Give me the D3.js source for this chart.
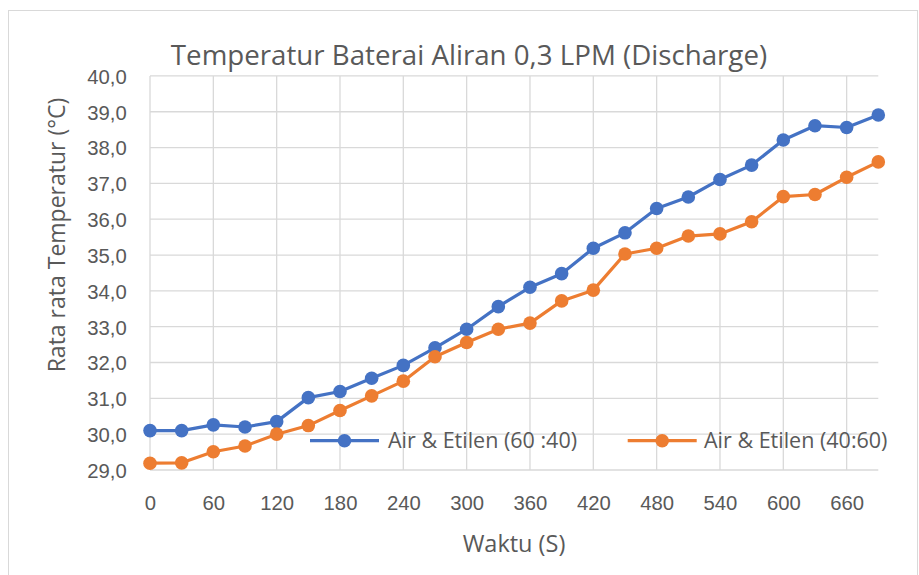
<!DOCTYPE html>
<html><head><meta charset="utf-8">
<script src="https://cdn.jsdelivr.net/npm/d3@7"></script>
<style>html,body{margin:0;padding:0;background:#fff;}svg{display:block;font-family:"Open Sans",sans-serif;}</style>
</head><body>
<svg id="c" width="919" height="575"></svg>
<script>
const times = [0,30,60,90,120,150,180,210,240,270,300,330,360,390,420,450,480,510,540,570,600,630,660,690];
const seriesA = [30.1,30.1,30.26,30.2,30.35,31.02,31.19,31.56,31.92,32.41,32.93,33.56,34.1,34.48,35.19,35.62,36.3,36.62,37.11,37.51,38.21,38.61,38.56,38.91];
const seriesB = [29.19,29.2,29.51,29.67,30.0,30.24,30.66,31.07,31.48,32.16,32.56,32.93,33.1,33.72,34.02,35.03,35.19,35.53,35.59,35.93,36.63,36.69,37.17,37.6];
const seriesNames = ["Air & Etilen (60 :40)","Air & Etilen (40:60)"];
const xTicks = [0,60,120,180,240,300,360,420,480,540,600,660];
const yTicks = [29,30,31,32,33,34,35,36,37,38,39,40];
const colors = ["#4472C4","#ED7D31"];

const svg = d3.select("#c");
const x = d3.scaleLinear().domain([0,690]).range([150,878.3]);
const y = d3.scaleLinear().domain([29,40]).range([470,75.9]);
const txt = "#595959", grid = "#d9d9d9";

svg.append("rect").attr("x",8.5).attr("y",10.5).attr("width",909).attr("height",570)
  .attr("fill","#fff").attr("stroke",grid);

// gridlines
svg.append("g").selectAll("line").data(yTicks).join("line")
  .attr("x1",x(0)).attr("x2",x(690)).attr("y1",d=>y(d)).attr("y2",d=>y(d))
  .attr("stroke",grid).attr("stroke-width",1.3);
svg.append("g").selectAll("line").data(xTicks).join("line")
  .attr("x1",d=>x(d)).attr("x2",d=>x(d)).attr("y1",y(29)).attr("y2",y(40))
  .attr("stroke",grid).attr("stroke-width",1.3);

// axes
const fmt = d => d3.format(".1f")(d).replace(".",",");
const yAxis = svg.append("g").attr("transform",`translate(126.7,0)`)
  .call(d3.axisLeft(y).tickValues(yTicks).tickFormat(fmt).tickSize(0).tickPadding(0));
yAxis.select(".domain").remove();
yAxis.selectAll("text").attr("fill",txt).style("font-size","20.3px").attr("dy","0.36em");
const xAxis = svg.append("g").attr("transform",`translate(0,${y(29)})`)
  .call(d3.axisBottom(x).tickValues(xTicks).tickFormat(d3.format("d")).tickSize(0).tickPadding(0));
xAxis.select(".domain").remove();
xAxis.selectAll("text").attr("fill",txt).style("font-size","20.3px").attr("y",40).attr("dy",0);

// series
const data = [seriesA, seriesB];
const line = d3.line().x((d,i)=>x(times[i])).y(d=>y(d));
data.forEach((s,k)=>{
  svg.append("path").datum(s).attr("d",line).attr("fill","none")
    .attr("stroke",colors[k]).attr("stroke-width",3.2).attr("stroke-linejoin","round");
  svg.append("g").selectAll("circle").data(s).join("circle")
    .attr("cx",(d,i)=>x(times[i])).attr("cy",d=>y(d)).attr("r",6.8).attr("fill",colors[k]);
});

// legend
const leg = [{x0:310,t:388},{x0:627.7,t:704}];
leg.forEach((l,k)=>{
  const g = svg.append("g");
  g.append("line").attr("x1",l.x0).attr("x2",l.x0+69).attr("y1",440.7).attr("y2",440.7)
    .attr("stroke",colors[k]).attr("stroke-width",3.2);
  g.append("circle").attr("cx",l.x0+34.5).attr("cy",440.7).attr("r",6.8).attr("fill",colors[k]);
  g.append("text").attr("x",l.t).attr("y",440.7).attr("dy","0.36em").attr("fill",txt)
    .style("font-size","21.5px").text(seriesNames[k]);
});

// titles
svg.append("text").attr("x",469).attr("y",65).attr("text-anchor","middle").attr("fill",txt)
  .style("font-size","27.7px").text("Temperatur Baterai Aliran 0,3 LPM (Discharge)");
svg.append("text").attr("x",514).attr("y",552).attr("text-anchor","middle").attr("fill",txt)
  .style("font-size","23.5px").text("Waktu (S)");
svg.append("text").attr("transform","translate(57,235) rotate(-90)").attr("text-anchor","middle")
  .attr("dy","0.36em").attr("fill",txt).style("font-size","23px").text("Rata rata Temperatur (°C)");
</script>
</body></html>
